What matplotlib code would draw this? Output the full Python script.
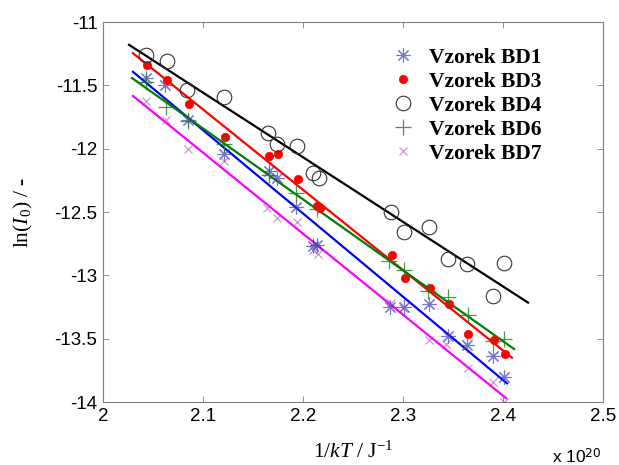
"""
Arrhenius-type plot of ln(I0) versus 1/kT for five samples with linear fits.
"""

import numpy as np
import matplotlib
matplotlib.use("Agg")
import matplotlib.pyplot as plt
from matplotlib.lines import Line2D

plt.rcParams["mathtext.fontset"] = "custom"
plt.rcParams["mathtext.rm"] = "Liberation Serif"
plt.rcParams["mathtext.it"] = "Liberation Serif:italic"

# 1/kT in units of 1e20 J^-1, ln(I0) dimensionless
bd1_x = [2.043, 2.062, 2.085, 2.121, 2.166, 2.174, 2.193, 2.210, 2.214,
         2.287, 2.301, 2.326, 2.345, 2.364, 2.390, 2.401]
bd1_y = [-11.44, -11.50, -11.77, -12.04, -12.18, -12.23, -12.46, -12.77, -12.76,
         -13.25, -13.25, -13.23, -13.48, -13.55, -13.64, -13.80]

bd3_x = [2.044, 2.064, 2.086, 2.122, 2.166, 2.175, 2.195, 2.214, 2.217,
         2.289, 2.302, 2.327, 2.346, 2.365, 2.391, 2.402]
bd3_y = [-11.34, -11.46, -11.65, -11.91, -12.06, -12.04, -12.24, -12.45, -12.47,
         -12.84, -13.02, -13.10, -13.23, -13.46, -13.51, -13.62]

bd4_x = [2.043, 2.064, 2.084, 2.121, 2.165, 2.174, 2.194, 2.210, 2.216,
         2.288, 2.301, 2.326, 2.345, 2.364, 2.390, 2.401]
bd4_y = [-11.26, -11.31, -11.54, -11.59, -11.88, -11.96, -11.98, -12.19, -12.23,
         -12.50, -12.66, -12.62, -12.87, -12.91, -13.16, -12.90]

bd6_x = [2.043, 2.063, 2.085, 2.121, 2.166, 2.193, 2.214,
         2.286, 2.301, 2.325, 2.345, 2.365, 2.390, 2.401]
bd6_y = [-11.47, -11.67, -11.78, -11.96, -12.21, -12.35, -12.48,
         -12.89, -12.96, -13.12, -13.17, -13.31, -13.52, -13.50]

bd7_x = [2.043, 2.063, 2.085, 2.121, 2.164, 2.174, 2.194, 2.210, 2.215,
         2.288, 2.300, 2.326, 2.343, 2.365, 2.390, 2.401]
bd7_y = [-11.62, -11.77, -12.00, -12.10, -12.47, -12.55, -12.58, -12.80, -12.83,
         -13.22, -13.26, -13.51, -13.54, -13.73, -13.84, -14.00]

labels = ["Vzorek BD1", "Vzorek BD3", "Vzorek BD4", "Vzorek BD6", "Vzorek BD7"]

# x-range over which each fitted line is drawn
fit_start = [2.030, 2.030, 2.026, 2.029, 2.030]
fit_end = [2.404, 2.409, 2.425, 2.411, 2.403]

series = [(bd1_x, bd1_y), (bd3_x, bd3_y), (bd4_x, bd4_y), (bd6_x, bd6_y), (bd7_x, bd7_y)]

line_colors = ["#0000ff", "#ff0000", "#000000", "#007f00", "#ff00ff"]
marker_styles = [
    dict(marker=(8, 2, 0), ms=10, mec="#3a3ab8", mfc="none", mew=0.8, alpha=0.7),
    dict(marker="o", ms=6, mec="#ff0000", mfc="#ff0000", mew=0.5),
    dict(marker="o", ms=10.5, mec="#333333", mfc="none", mew=0.8),
    dict(marker="+", ms=11, mec="#1d7f1d", mew=0.9, alpha=0.8),
    dict(marker="x", ms=6, mec="#b04ab0", mew=0.8, alpha=0.65),
]

fig = plt.figure(figsize=(6.19, 4.65), dpi=100)
ax = fig.add_axes([103 / 619, 1 - 402 / 465, 500 / 619, 380 / 465])

for (x, y), lc, x0, x1 in zip(series, line_colors, fit_start, fit_end):
    k, q = np.polyfit(x, y, 1)
    xf = np.array([x0, x1])
    ax.plot(xf, k * xf + q, color=lc, lw=1.6, zorder=2)

for (x, y), ms in zip(series, marker_styles):
    ax.plot(x, y, ls="none", zorder=3, **ms)

ax.set_xlim(2.0, 2.5)
ax.set_ylim(-14, -11)
ax.set_xticks(np.arange(2.0, 2.51, 0.1))
ax.set_xticklabels(["2", "2.1", "2.2", "2.3", "2.4", "2.5"])
ax.set_yticks(np.arange(-14, -10.9, 0.5))
ax.set_yticklabels(["-14", "-13.5", "-13", "-12.5", "-12", "-11.5", "-11"])

for sp in ax.spines.values():
    sp.set_color("#7f7f7f")
    sp.set_linewidth(0.8)
ax.tick_params(direction="in", length=4, width=0.6, color="#7f7f7f",
               top=True, right=True, labelsize=13.5, pad=4)
for lab in ax.get_xticklabels() + ax.get_yticklabels():
    lab.set_family("Liberation Sans")

ax.set_xlabel("1/$kT$ / J$^{\\mathrm{-1}}$", fontsize=15.5, family="Liberation Serif", labelpad=12)
ax.set_ylabel("ln($I_\\mathrm{0}$) / -", fontsize=15.5, family="Liberation Serif", labelpad=14)

fig.text(602 / 619, 1 - 457 / 465, "x 10$^{\\mathsf{20}}$", ha="right", va="center",
         fontsize=12.5, family="Liberation Sans")

handles = [Line2D([], [], ls="none", **ms) for ms in marker_styles]
leg = ax.legend(handles, labels, loc="upper left", bbox_to_anchor=(0.545, 0.972),
                frameon=False, handlelength=1.2, handletextpad=0.6,
                labelspacing=0.18, borderaxespad=0.3,
                prop={"family": "Liberation Serif", "weight": "bold", "size": 15.5})

fig.savefig("out.png", dpi=100)
